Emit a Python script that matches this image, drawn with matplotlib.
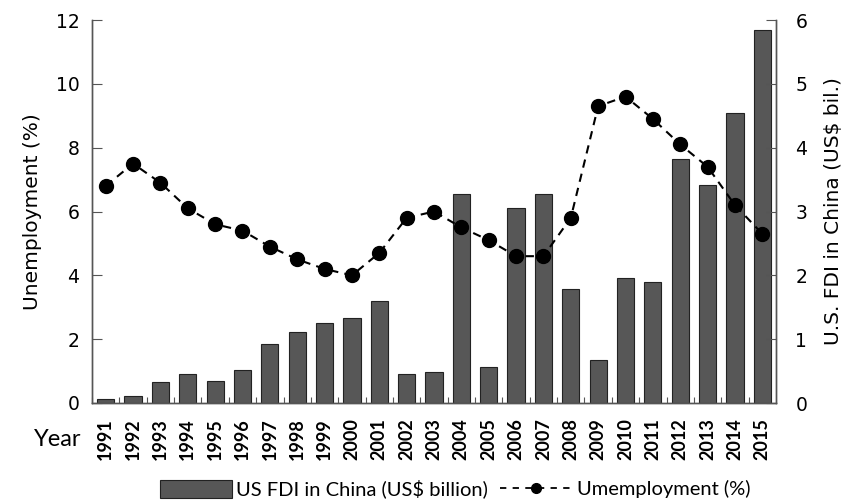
import matplotlib
matplotlib.use("Agg")
import matplotlib.pyplot as plt
import numpy as np
from matplotlib.lines import Line2D
from matplotlib.patches import Patch

plt.rcParams["font.family"] = ["DejaVu Sans"]

years = [str(y) for y in range(1991, 2016)]
fdi = [0.06, 0.11, 0.33, 0.46, 0.34, 0.52, 0.93, 1.11, 1.25, 1.33, 1.60, 0.46, 0.48,
       3.28, 0.56, 3.06, 3.28, 1.79, 0.68, 1.96, 1.90, 3.82, 3.42, 4.54, 5.84]
unemp = [6.8, 7.5, 6.9, 6.1, 5.6, 5.4, 4.9, 4.5, 4.2, 4.0, 4.7, 5.8, 6.0,
         5.5, 5.1, 4.6, 4.6, 5.8, 9.3, 9.6, 8.9, 8.1, 7.4, 6.2, 5.3]
left_ticks = [0, 2, 4, 6, 8, 10, 12]
right_ticks = [0, 1, 2, 3, 4, 5, 6]

fig = plt.figure(figsize=(8.47, 5.03), dpi=100)
ax = fig.add_axes([92/847, 1 - 403/503, (776-92)/847, (403-20)/503])
ax2 = ax.twinx()

x = np.arange(len(years))
ax2.bar(x, fdi, width=0.63, color="#575757", edgecolor="#222222", linewidth=0.8, zorder=1)
ax.set_zorder(ax2.get_zorder() + 1)
ax.patch.set_visible(False)
ax.plot(x, unemp, linestyle=(0, (4, 3)), color="black", linewidth=1.5,
        marker="o", markersize=10, markerfacecolor="black", zorder=3)

ax.set_xlim(-0.5, len(years) - 0.5)
ax.set_ylim(0, 12)
ax2.set_ylim(0, 6)
ax.set_yticks(left_ticks)
ax2.set_yticks(right_ticks)
ax.tick_params(axis="y", direction="in", length=7, labelsize=13.5, pad=9, color="#555555")
ax2.tick_params(axis="y", direction="in", length=7, labelsize=13.5, pad=14, color="#555555")

ax.set_xticks(np.arange(len(years)) - 0.5, minor=False)
ax.set_xticklabels([""] * len(years))
ax.set_xticks(x, minor=True)
ax.set_xticklabels(years, minor=True, rotation=90, fontsize=13, fontweight="bold",
                   family="Lato")
ax.tick_params(axis="x", which="major", direction="in", length=4, color="#555555")
ax.tick_params(axis="x", which="minor", length=0, pad=11)

for a in (ax, ax2):
    a.spines["top"].set_visible(False)
    for s in ["left", "right", "bottom"]:
        a.spines[s].set_color("#555555")
        a.spines[s].set_linewidth(1.0)

ax.set_ylabel("Unemployment (%)", fontsize=14.5, labelpad=10)
ax2.set_ylabel("U.S. FDI in China (US$ bil.)", fontsize=14.5, labelpad=12)
fig.text(58/847, 1 - 440/503, "Year", fontsize=17, family="Lato", ha="center", va="center")

handles = [Patch(facecolor="#575757", edgecolor="#222222", linewidth=0.8),
           Line2D([0], [0], linestyle=(0, (3.5, 3.5)), color="black", marker="o",
                  markersize=7, linewidth=1.3)]
fig.legend(handles, ["US FDI in China (US$ billion)", "Umemployment (%)"],
           loc="center", bbox_to_anchor=(455/847, 1 - 489/503), ncol=2, frameon=False,
           prop={"family": "Lato", "size": 14.5}, handlelength=3.6, handleheight=1.0,
           handletextpad=0.2, columnspacing=0.6)

fig.savefig("out.png", dpi=100)
